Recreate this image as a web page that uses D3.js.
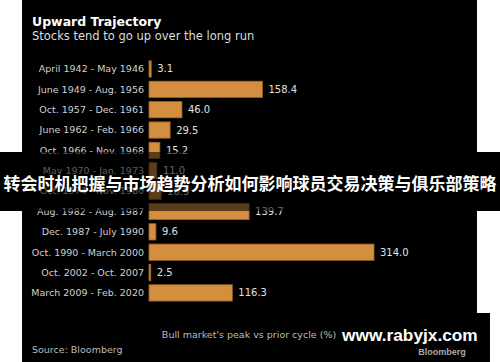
<!DOCTYPE html>
<html>
<head>
<meta charset="utf-8">
<script src="https://cdn.jsdelivr.net/npm/d3@7"></script>
<style>
  body { margin: 0; background: #fff; }
  svg { display: block; }
</style>
</head>
<body>
<svg width="500" height="362"></svg>
<script>
// data
var periods = [
  "April 1942 - May 1946", "June 1949 - Aug. 1956", "Oct. 1957 - Dec. 1961",
  "June 1962 - Feb. 1966", "Oct. 1966 - Nov. 1968", "May 1970 - Jan. 1973",
  "Oct. 1974 - Nov. 1980", "Aug. 1982 - Aug. 1987", "Dec. 1987 - July 1990",
  "Oct. 1990 - March 2000", "Oct. 2002 - Oct. 2007", "March 2009 - Feb. 2020"
];
var gains = [3.1, 158.4, 46.0, 29.5, 15.2, 11.0, 16.9, 139.7, 9.6, 314.0, 2.5, 116.3];

var svg = d3.select("svg");
var font = "'DejaVu Sans', Verdana, sans-serif";

// black panel
svg.append("rect").attr("x", 22).attr("y", 0).attr("width", 455).attr("height", 362).attr("fill", "#000");

svg.append("text").attr("x", 32).attr("y", 26)
    .attr("font-family", font).attr("font-weight", "bold").attr("font-size", 12.5)
    .attr("fill", "#fff").text("Upward Trajectory");
svg.append("text").attr("x", 32).attr("y", 40)
    .attr("font-family", font).attr("font-size", 11.5)
    .attr("fill", "#ddd").text("Stocks tend to go up over the long run");

var x = d3.scaleLinear().domain([0, 314]).range([149, 374]);
var y = d3.scaleBand().domain(periods).range([58.8, 303.1]).paddingInner(0.2).paddingOuter(0.1);

var rows = svg.append("g").selectAll("g")
    .data(periods).enter().append("g");

rows.append("rect")
    .attr("x", x(0))
    .attr("y", function(d) { return y(d); })
    .attr("width", function(d, i) { return x(gains[i]) - x(0); })
    .attr("height", y.bandwidth())
    .attr("fill", "#d38e40")
    .attr("stroke", "#9a6226")
    .attr("stroke-width", 0.8);

rows.append("text")
    .attr("x", 144)
    .attr("y", function(d) { return y(d) + y.bandwidth() / 2; })
    .attr("dy", "0.35em")
    .attr("text-anchor", "end")
    .attr("font-family", font).attr("font-size", 9.5)
    .attr("fill", "#d0d0d0")
    .text(function(d) { return d; });

rows.append("text")
    .attr("x", function(d, i) { return x(gains[i]) + 6; })
    .attr("y", function(d) { return y(d) + y.bandwidth() / 2; })
    .attr("dy", "0.35em")
    .attr("font-family", font).attr("font-size", 10)
    .attr("fill", "#e0e0e0")
    .text(function(d, i) { return gains[i].toFixed(1); });

svg.append("text").attr("x", 249).attr("y", 338)
    .attr("text-anchor", "middle")
    .attr("font-family", font).attr("font-size", 9.5)
    .attr("fill", "#bbb").text("Bull market's peak vs prior cycle (%)");
svg.append("text").attr("x", 32).attr("y", 353)
    .attr("font-family", font).attr("font-size", 9.5)
    .attr("fill", "#bbb").text("Source: Bloomberg");

// banner overlay
svg.append("rect").attr("x", 0).attr("y", 152).attr("width", 22).attr("height", 59).attr("fill", "#000");
svg.append("rect").attr("x", 477).attr("y", 152).attr("width", 23).attr("height", 59).attr("fill", "#000");
svg.append("rect").attr("x", 22).attr("y", 152).attr("width", 455).attr("height", 59).attr("fill", "rgba(0,0,0,0.57)");
svg.append("text").attr("x", 250).attr("y", 190)
    .attr("text-anchor", "middle")
    .attr("font-family", "'Noto Sans CJK SC', sans-serif").attr("font-weight", "bold").attr("font-size", 17)
    .attr("fill", "#fff").text("转会时机把握与市场趋势分析如何影响球员交易决策与俱乐部策略");

// watermark
svg.append("rect").attr("x", 340).attr("y", 313).attr("width", 150).attr("height", 49).attr("fill", "#000");
svg.append("text").attr("x", 342).attr("y", 341)
    .attr("font-family", "'Liberation Sans', Arial, sans-serif").attr("font-weight", "bold").attr("font-size", 17.3)
    .attr("fill", "#fff").text("www.rabyjx.com");
svg.append("text").attr("x", 442).attr("y", 355)
    .attr("text-anchor", "middle")
    .attr("font-family", "'Liberation Sans', Arial, sans-serif").attr("font-weight", "bold").attr("font-size", 9)
    .attr("fill", "#aaa").text("Bloomberg");
</script>
</body>
</html>
